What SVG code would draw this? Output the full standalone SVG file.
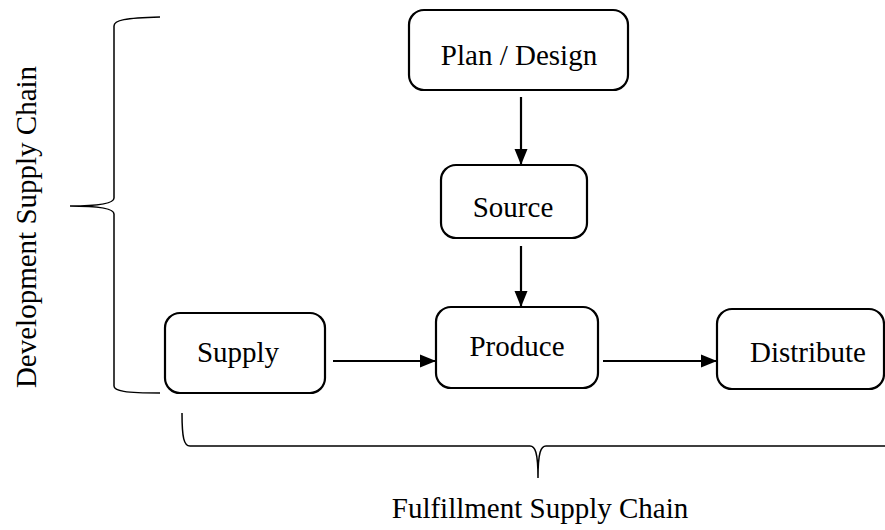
<svg xmlns="http://www.w3.org/2000/svg" width="885" height="530" viewBox="0 0 885 530">
  <style>
    .box { fill: #ffffff; stroke: #000000; stroke-width: 2.2; }
    .lbl { font-family: 'Liberation Serif', Tinos, 'Times New Roman', Times, serif; font-size: 29px; fill: #000000; text-anchor: middle; }
    .edge { fill: none; stroke: #000000; stroke-width: 2.2; }
    .brace { fill: none; stroke: #000000; stroke-width: 1.5; }
  </style>
  <defs>
    <marker id="arrow" markerWidth="16" markerHeight="14" refX="15" refY="7" orient="auto" markerUnits="userSpaceOnUse">
      <path d="M0,0.5 L16,7 L0,13.5 Z" fill="#000000"/>
    </marker>
  </defs>
  <rect width="885" height="530" fill="#ffffff"/>

  <!-- braces -->
  <g id="braces">
    <path class="brace" d="M160,17 C125,18 114,20 114,26 V198 C114,203 100,206 70,206 C100,206 114,209 114,214 V386 C114,391 125,393 160,393"/>
    <path class="brace" d="M182,413 C182,438 184,446 190,446 H530 C535,446 538,452 538,478 C538,452 541,446 546,446 H886"/>
  </g>

  <!-- connectors -->
  <g id="connectors">
    <line class="edge" x1="521" y1="97" x2="521" y2="164" marker-end="url(#arrow)"/>
    <line class="edge" x1="521" y1="246" x2="521" y2="306" marker-end="url(#arrow)"/>
    <line class="edge" x1="333" y1="361" x2="435" y2="361" marker-end="url(#arrow)"/>
    <line class="edge" x1="603" y1="361" x2="716" y2="361" marker-end="url(#arrow)"/>
  </g>

  <g id="plan">
    <rect class="box" x="409" y="10" width="219" height="80" rx="15"/>
    <text class="lbl" x="519" y="65">Plan / Design</text>
  </g>
  <g id="source">
    <rect class="box" x="441" y="165" width="146" height="73" rx="15"/>
    <text class="lbl" x="513" y="217">Source</text>
  </g>
  <g id="produce">
    <rect class="box" x="436" y="307" width="162" height="81" rx="15"/>
    <text class="lbl" x="517" y="356">Produce</text>
  </g>
  <g id="supply">
    <rect class="box" x="165" y="313" width="160" height="80" rx="15"/>
    <text class="lbl" x="238" y="362">Supply</text>
  </g>
  <g id="distribute">
    <rect class="box" x="717" y="309" width="167" height="80" rx="15"/>
    <text class="lbl" x="808" y="362">Distribute</text>
  </g>

  <text class="lbl" x="540" y="518">Fulfillment Supply Chain</text>
  <text class="lbl" transform="translate(36,227) rotate(-90)" font-size="30">Development Supply Chain</text>
</svg>
